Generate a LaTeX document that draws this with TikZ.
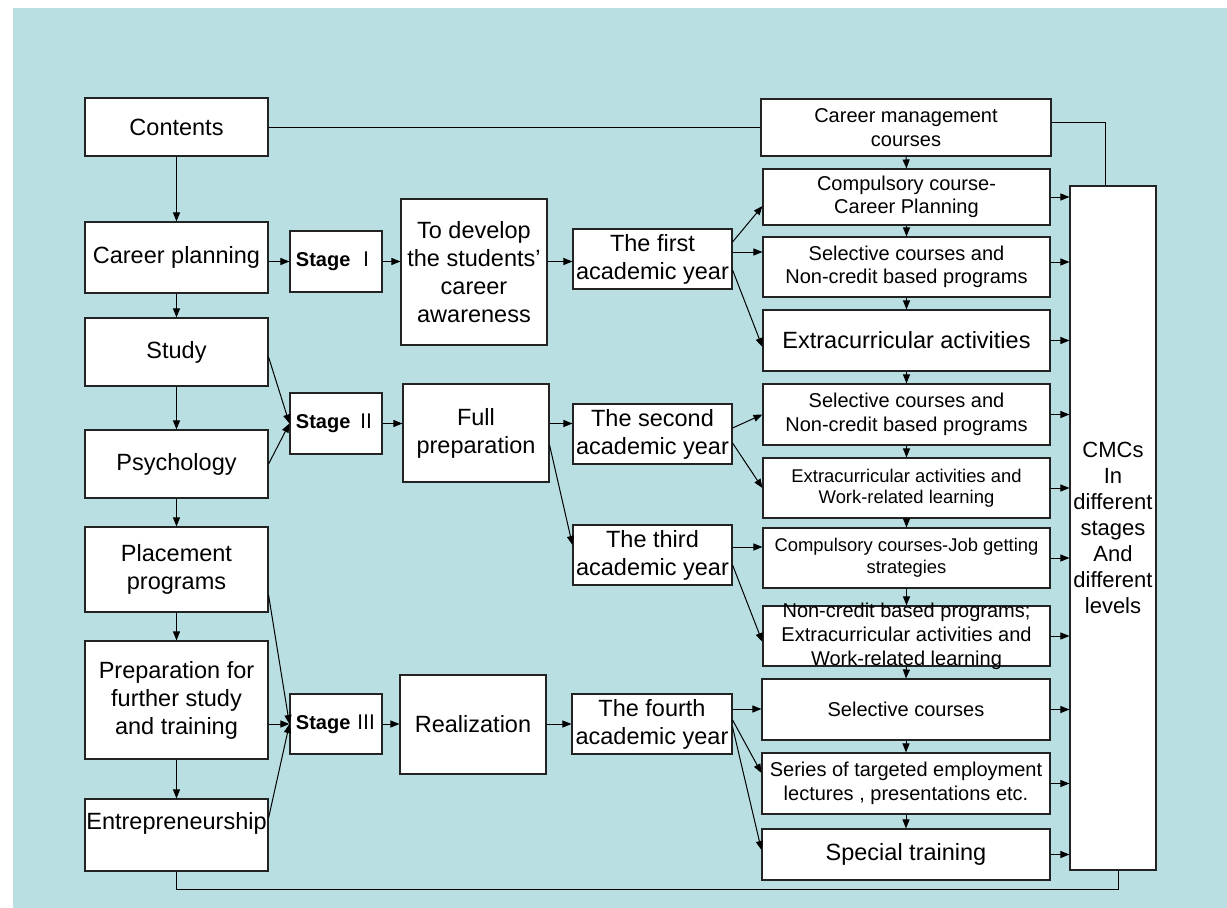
\documentclass[tikz,border=0pt]{standalone}
\usepackage{fontspec}
\setmainfont{Liberation Sans}
\newfontfamily\cjkf{Noto Sans CJK SC}
\usetikzlibrary{arrows.meta}
\definecolor{bgc}{RGB}{185,223,226}
\definecolor{edgec}{RGB}{35,35,35}
\begin{document}
\begin{tikzpicture}[x=1pt,y=-1pt,
  box/.style={draw=edgec, fill=white, line width=1.1pt, inner sep=0pt, align=center,
              font=\fontsize{23.5}{28}\selectfont},
  rbox/.style={box, font=\fontsize{20}{23.5}\selectfont},
  stagebox/.style={box, font=\fontsize{20}{24}\selectfont\bfseries},
  wh/.style 2 args={minimum width=#1, minimum height=#2},
  arr/.style={-{Triangle[length=9pt,width=7pt]}, line width=1pt},
  ln/.style={line width=1pt},
]
\path[use as bounding box] (0,0) rectangle (1227,908);
\fill[bgc] (13,8) rectangle (1227,908);

% left column
\node[box,wh={183}{58}]  (cont)  at (176.5,127)   {Contents};
\node[box,wh={183}{71}]  (plan)  at (176.5,257.5) {Career planning};
\node[box,wh={183}{68}]  (study) at (176.5,352)   {Study};
\node[box,wh={183}{68}]  (psy)   at (176.5,464)   {Psychology};
\node[box,wh={183}{85}]  (place) at (176.5,569.5) {Placement\\programs};
\node[box,wh={183}{118}] (prep)  at (176.5,700)   {Preparation for\\further study\\and training};
\node[box,wh={183}{72}]  (entre) at (176.5,835)   {Entrepreneurship\\\mbox{}};

% stages
\node[stagebox,wh={92}{61}] (s1) at (336,261.5) {Stage {\mdseries\cjkf Ⅰ}};
\node[stagebox,wh={92}{61}] (s2) at (336,423.5) {Stage {\mdseries\cjkf Ⅱ}};
\node[stagebox,wh={92}{60}] (s3) at (336,724)   {Stage {\mdseries\cjkf Ⅲ}};

% goals
\node[box,wh={146}{146}] (dev)  at (474,272)   {To develop\\the students’\\career\\awareness};
\node[box,wh={146}{98}]  (full) at (476,433)   {Full\\preparation};
\node[box,wh={146}{99}]  (real) at (473,724.5) {Realization};

% years
\node[box,wh={159}{60}] (y1) at (652.5,259) {The first\\academic year};
\node[box,wh={159}{60}] (y2) at (652.5,434) {The second\\academic year};
\node[box,wh={159}{60}] (y3) at (652.5,555) {The third\\academic year};
\node[box,wh={160}{60}] (y4) at (652,724)   {The fourth\\academic year};

% right column
\node[rbox,wh={290}{57}] (r0) at (906,127.5) {Career management\\courses};
\node[rbox,wh={287}{56}] (r1) at (906.5,197) {Compulsory course-\\Career Planning};
\node[rbox,wh={287}{60}] (r2) at (906.5,267) {Selective courses and\\Non-credit based programs};
\node[box,wh={287}{61}]  (r3) at (906.5,340.5) {Extracurricular activities};
\node[rbox,wh={287}{61}] (r4) at (906.5,414.5) {Selective courses and\\Non-credit based programs};
\node[rbox,wh={287}{60},font=\fontsize{18.4}{21.5}\selectfont] (r5) at (906.5,488) {Extracurricular activities and\\Work-related learning};
\node[rbox,wh={287}{60},font=\fontsize{18.4}{22}\selectfont] (r6) at (906.5,558) {Compulsory courses-Job getting\\strategies};
\node[rbox,wh={287}{60}] (r7) at (906.5,636) {};
\node[font=\fontsize{20}{24}\selectfont, align=center, inner sep=0pt] (r7t) at (906.5,636) {Non-credit based programs;\\Extracurricular activities and\\Work-related learning};
\node[rbox,wh={288}{61}] (r8) at (906,709.5) {Selective courses};
\node[rbox,wh={288}{61}] (r9) at (906,783.5) {Series of targeted employment\\lectures , presentations etc.};
\node[box,wh={288}{51}]  (r10) at (906,854.5) {Special training};

\node[box,wh={86}{684},font=\fontsize{22}{26}\selectfont] (cmc) at (1113,528) {CMCs\\In\\different\\stages\\And\\different\\levels};

% left vertical chain
\draw[arr] (cont.south) -- (plan.north);
\draw[arr] (plan.south) -- (study.north);
\draw[arr] (study.south) -- (psy.north);
\draw[arr] (psy.south) -- (place.north);
\draw[arr] (place.south) -- (prep.north);
\draw[arr] (prep.south) -- (entre.north);

% to stages
\draw[arr] (plan.east |- s1.west) -- (s1.west);
\draw[arr] ([yshift=-5pt]study.east) -- (s2.west);
\draw[arr] (psy.east) -- (s2.west);
\draw[arr] ([yshift=-25.5pt]place.east) -- (s3.west);
\draw[arr] (prep.east |- s3.west) -- (s3.west);
\draw[arr] ([yshift=17pt]entre.east) -- (s3.west);

% stages to goals
\draw[arr] (s1.east) -- (s1.east -| dev.west);
\draw[arr] (s2.east) -- (s2.east -| full.west);
\draw[arr] (s3.east) -- (s3.east -| real.west);

% goals to years
\draw[arr] (dev.east |- s1.east) -- (y1.west |- s1.east);
\draw[arr] (full.east |- s2.east) -- (y2.west |- s2.east);
\draw[arr] ([yshift=-12pt]full.east) -- ([yshift=10pt]y3.west);
\draw[arr] (real.east |- y4.west) -- (y4.west);

% years to right column
\draw[arr] ([yshift=17pt]y1.east) -- ([yshift=-9pt]r1.west);
\draw[arr] ([yshift=7pt]y1.east) -- ([yshift=7pt]y1.east -| r2.west);
\draw[arr] ([yshift=-11pt]y1.east) -- ([yshift=-6.5pt]r3.west);
\draw[arr] ([yshift=6pt]y2.east) -- (r4.west);
\draw[arr] ([yshift=-9pt]y2.east) -- (r5.west);
\draw[arr] ([yshift=8pt]y3.east) -- ([yshift=8pt]y3.east -| r6.west);
\draw[arr] ([yshift=-10pt]y3.east) -- ([yshift=-6pt]r7.west);
\draw[arr] ([yshift=15pt]y4.east) -- ([yshift=15pt]y4.east -| r8.west);
\draw[arr] ([yshift=4pt]y4.east) -- ([yshift=10.5pt]r9.west);
\draw[arr] ([yshift=-3pt]y4.east) -- ([yshift=4.5pt]r10.west);

% right vertical chain
\foreach \a/\b in {r0/r1,r1/r2,r2/r3,r3/r4,r4/r5,r5/r6,r6/r7,r7/r8,r8/r9,r9/r10}
  \draw[arr] (\a.south) -- (\b.north);

% right column to CMCs
\draw[arr] (r1.east) -- (r1.east -| cmc.west);
\draw[arr] ([yshift=5pt]r2.east) -- ([yshift=5pt]r2.east -| cmc.west);
\foreach \r in {r3,r4,r5,r6,r7,r8,r9,r10}
  \draw[arr] (\r.east) -- (\r.east -| cmc.west);

% plain connectors
\draw[ln] (cont.east) -- (r0.west |- cont.east);
\draw[ln] ([yshift=5pt]r0.east) -| ([xshift=-8pt]cmc.north);
\draw[ln] (entre.south) -- ++(0,18) -| ([xshift=5pt]cmc.south);
\end{tikzpicture}
\end{document}
